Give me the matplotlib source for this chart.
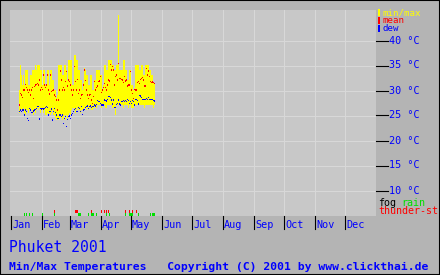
import numpy as np
import matplotlib
matplotlib.use("Agg")
import matplotlib.pyplot as plt
from matplotlib.lines import Line2D
from matplotlib.patches import Rectangle

# daily values, first entry = day of year 10 (Jan 10)
first_day = 10
tmax = [30, 35, 33, 31, 33, 31, 34, 34, 34, 31,
        31, 33, 33, 34, 34, 34, 35, 34, 35, 35,
        35, 34, 34, 31, 34, 34, 31, 31, 34, 34,
        31, 34, 34, 32, 32, 30, 30, 28.5, 29, 35,
        35, 35, 35, 33, 33, 35, 35, 34, 32, 36,
        36, 36, 36, 31, 31, 37, 37, 36, 36, 34,
        34, 32, 32, 30, 31.5, 34.5, 34, 33, 33, 31,
        31, 33, 33, 30, 30, 32, 32, 34, 34, 34,
        34, 33, 33, 30, 31, 35, 35, 34, 34, 36,
        36, 36, 36, 35, 35, 34, 34, 35, 35, 45,
        34, 34, 34, 34, 36, 36, 34, 34, 32, 32,
        34, 34, 31, 31, 30, 30.5, 35, 35, 35, 35,
        34, 34, 35, 35, 33, 33, 35, 35, 35, 35,
        34, 34, 33, 33, 31.5, 31.5]
tmin = [25.5, 26, 26, 26, 26.5, 25.5, 25, 26, 26, 25.5,
        26, 26.5, 26, 25.5, 25, 26, 25.5, 26, 26.5, 26,
        26.5, 25.5, 26, 26, 25.5, 26, 25, 25, 25.5, 25,
        25.5, 25, 25.5, 26, 25, 25, 24.5, 24, 24, 24.5,
        24, 24.5, 25, 24, 24.5, 25, 24, 25, 24.5, 25,
        25.5, 25, 26, 26.5, 26.5, 26, 25.5, 26, 26.5, 26,
        26, 25.5, 26, 26, 26, 26.5, 26.5, 26, 26.5, 26,
        26.5, 26.5, 26, 26, 26.5, 26.5, 27, 26.5, 27, 27,
        27, 27, 26.5, 27, 27, 27, 26.5, 26.5, 27, 27,
        27, 27, 27, 26.5, 26.5, 26.5, 25, 27, 27, 27,
        27, 27, 27, 27, 26.5, 27, 27, 27, 27, 26.5,
        27, 27, 26.5, 26.5, 26.5, 27, 27, 27, 27, 27,
        27, 27, 27, 27, 27, 26.5, 27, 27, 27, 27,
        27, 27, 27, 27, 26.5, 27]
tmean = [27, 29.3, 29, 28.5, 30, 30, 31.1, 30.5, 30, 29.5,
         30, 29, 30, 30.5, 28.3, 30.7, 31, 31.1, 31.3, 31,
         32, 30, 30.5, 30.1, 33, 31, 30.5, 31, 33, 30,
         29.2, 33, 29.7, 29.9, 30, 29, 28.7, 28, 26, 28,
         30, 33.8, 32, 30, 30.5, 30, 31.7, 33.7, 30.8, 32,
         31.7, 31, 30, 29, 30, 34.7, 31.7, 30, 32.1, 29.3,
         30, 28.3, 29, 29.1, 31, 34, 31.9, 30, 29, 28.3,
         29, 29.1, 28, 27.3, 28.7, 31.7, 30, 30.5, 30.8, 31.7,
         31.8, 32.7, 29.5, 30, 30.5, 31.3, 30.5, 30, 31, 32,
         31.8, 35.1, 34, 34.7, 34, 31, 32.7, 33, 32, 35.3,
         32.3, 32.3, 32.1, 32, 31.5, 32.7, 31.8, 32, 30.8, 31,
         31, 33.7, 30, 29.3, 28.3, 30.1, 30, 30, 31.5, 31.7,
         31.3, 32.1, 32.3, 32.5, 32, 30.8, 30.8, 34.3, 33, 33.8,
         32.7, 31.7, 31.5, 31.6, 31.5, 31.3]
tdew = [25.7, 26, 25.7, 26, 26, 25, 26, 25.7, 24.3, 23.9,
        26.3, 26, 25.5, 25.5, 25.8, 26, 26.1, 26.3, 26.7, 26.7,
        24.2, 26.3, 26.2, 26.3, 26.2, 26.3, 26.5, 26.7, 26.5, 25,
        25.7, 25.7, 26.2, 24, 25.7, 26.3, 25.5, 25, 24.3, 24.3,
        25, 25, 24.7, 25, 23.3, 24.3, 24.7, 22.7, 24.1, 24.7,
        24.8, 24.3, 25, 25.3, 25.7, 26.1, 26.3, 25.7, 25.7, 26.5,
        26.3, 25.7, 26.7, 25.1, 26, 26.1, 26.5, 26.7, 26.8, 26.3,
        26.7, 26.8, 26.5, 26.7, 26.7, 27, 26.8, 27.1, 27.9, 27.7,
        27.7, 27.3, 27, 27, 27, 28, 27.9, 27.8, 28.1, 28.7,
        28.7, 28.5, 28, 27.2, 28, 26.5, 26.5, 27.1, 27.3, 28,
        27.2, 27, 27.7, 27.7, 27.9, 27.7, 27.9, 27.7, 28.1, 27.9,
        27.3, 27.7, 27.3, 27.9, 27.7, 27, 28.1, 28.1, 27.9, 27.2,
        28.9, 28.8, 28.5, 28.1, 28.1, 28.1, 28.1, 28.3, 28.1, 28.5,
        28.1, 28.1, 28.1, 28.1, 27.9, 27.8]

rain_days = [15, 17, 20, 23, 33, 45, 69, 70, 71, 79, 82, 83, 84, 87, 97, 100,
             116, 120, 121, 122, 123, 129, 141, 143, 144, 145]
thunder_days = [45, 66, 67, 68, 82, 92, 95, 97, 99, 116, 120, 123, 127]

months = ['Jan', 'Feb', 'Mar', 'Apr', 'May', 'Jun',
          'Jul', 'Aug', 'Sep', 'Oct', 'Nov', 'Dec']
month_start = [1, 32, 60, 91, 121, 152, 182, 213, 244, 274, 305, 335]
temp_ticks = [10, 15, 20, 25, 30, 35, 40]

days = np.arange(first_day, first_day + len(tmax))
tmax = np.array(tmax)
tmin = np.array(tmin)

BLUE = '#0000ff'
YELLOW = '#ffff00'
RED = '#ff0000'
GREEN = '#00e000'
W, H = 440, 275

plt.rcParams['font.family'] = ['DejaVu Sans Mono']


def fx(px):
    return px / W


def fy(py):
    return 1 - py / H


fig = plt.figure(figsize=(4.4, 2.75), dpi=100, facecolor='#b4b4b4')

ax = fig.add_axes([fx(10), fy(216), 366 / W, 206 / H])
ax.set_facecolor('#c8c8c8')
ax.set_xlim(0.5, 366.5)
ax.set_ylim(4.8, 46)
for s in ax.spines.values():
    s.set_visible(False)
ax.set_xticks([])
ax.set_yticks([])

# grid
for t in temp_ticks:
    ax.axhline(t - 0.1, color='#d8d8d8', lw=0.75, zorder=0)
for m in month_start[1:]:
    ax.axvline(m, color='#d8d8d8', lw=0.75, zorder=0)

# min/max bars, mean and dew points
ax.bar(days, tmax - tmin, bottom=tmin, width=1, color=YELLOW, lw=0, zorder=2)
ax.bar(days, 0.3, bottom=np.array(tmean) - 0.15, width=1, color=RED, lw=0, zorder=3)
ax.bar(days, 0.3, bottom=np.array(tdew) - 0.15, width=1, color=BLUE, lw=0, zorder=4)

# weather marks along the bottom
ax.bar(rain_days, 0.6, bottom=4.8, width=1, color=GREEN, lw=0, zorder=3)
ax.bar(thunder_days, 0.6, bottom=5.4, width=1, color=RED, lw=0, zorder=3)

# right side temperature scale
for t in temp_ticks:
    py = 40 + (40 - t) * 5
    fig.add_artist(Line2D([fx(376), fx(388)], [fy(py + 0.5)] * 2,
                          color='black', lw=0.8))
    fig.text(fx(389), fy(py + 0.5), f'{t} °C', color=BLUE, fontsize=7.3,
             va='center', ha='left')

# legend top right
for i, (lab, col) in enumerate([('min/max', YELLOW), ('mean', RED), ('dew', BLUE)]):
    py = 12.5 + i * 8
    fig.add_artist(Rectangle((fx(378), fy(py + 3)), 2 / W, 6 / H,
                             transform=fig.transFigure, color=col, lw=0))
    fig.text(fx(382), fy(py), lab, color=col, fontsize=6.6, va='center', ha='left')

fig.text(fx(378), fy(202.5), 'fog', color='black', fontsize=7.2, va='center', ha='left')
fig.text(fx(401.5), fy(202.5), 'rain', color=GREEN, fontsize=7.2, va='center', ha='left')
fig.text(fx(378), fy(211.5), 'thunder-st', color=RED, fontsize=7.2, va='center', ha='left')

# month axis
for name, m in zip(months, month_start):
    px = 10 + (m - 1)
    fig.add_artist(Line2D([fx(px + 0.5)] * 2, [fy(216), fy(229)],
                          color='black', lw=0.8))
    fig.text(fx(px + 2), fy(224.5), name, color=BLUE, fontsize=7.3,
             va='center', ha='left')

fig.text(fx(9), fy(247.5), 'Phuket 2001', color=BLUE, fontsize=10.6,
         va='center', ha='left')
fig.text(fx(9), fy(267), 'Min/Max Temperatures   Copyright (C) 2001 by www.clickthai.de',
         color=BLUE, fontsize=8.2, fontweight='bold', va='center', ha='left')

# outer frame
fig.add_artist(Rectangle((0, 0), 1, 1, transform=fig.transFigure, fill=False,
                         edgecolor='black', lw=1.5))

fig.savefig('out.png', dpi=100, facecolor=fig.get_facecolor())
